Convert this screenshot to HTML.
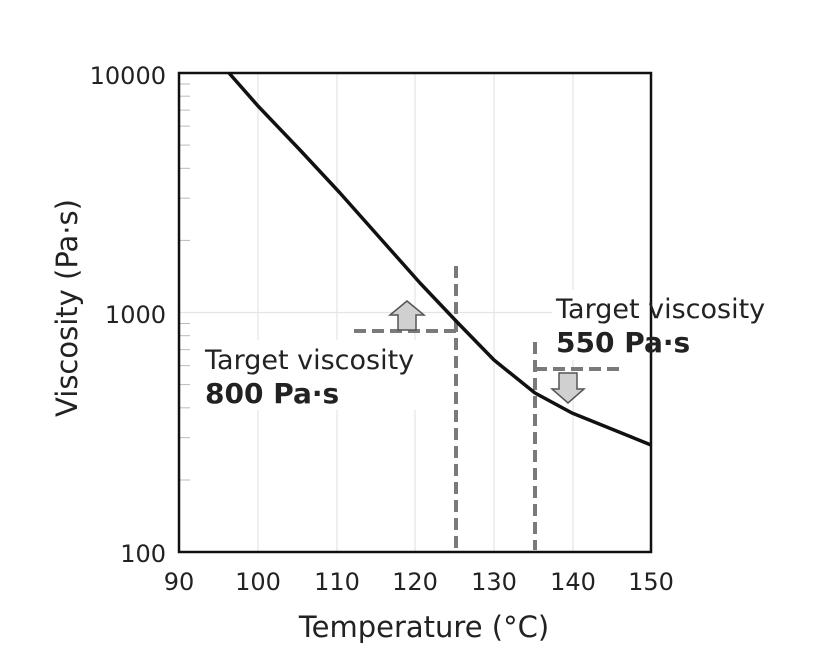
<!DOCTYPE html>
<html><head><meta charset="utf-8"><style>
html,body{margin:0;padding:0;background:#fff;}
svg{display:block;font-family:"DejaVu Sans","Liberation Sans",sans-serif;}
</style></head><body>
<svg width="813" height="668" viewBox="0 0 813 668" xmlns="http://www.w3.org/2000/svg">
<rect width="813" height="668" fill="#fff"/>
<g stroke="#e4e4e4" stroke-width="1.2">
<line x1="258" y1="73" x2="258" y2="552"/>
<line x1="337" y1="73" x2="337" y2="552"/>
<line x1="415" y1="73" x2="415" y2="552"/>
<line x1="494" y1="73" x2="494" y2="552"/>
<line x1="573" y1="73" x2="573" y2="552"/>
<line x1="179" y1="312.5" x2="651" y2="312.5"/>
</g>
<g stroke="#bbb" stroke-width="1">
<line x1="179" y1="480" x2="190" y2="480"/>
<line x1="179" y1="437.7" x2="190" y2="437.7"/>
<line x1="179" y1="407.8" x2="190" y2="407.8"/>
<line x1="179" y1="384.6" x2="190" y2="384.6"/>
<line x1="179" y1="365.6" x2="190" y2="365.6"/>
<line x1="179" y1="349.6" x2="190" y2="349.6"/>
<line x1="179" y1="335.7" x2="190" y2="335.7"/>
<line x1="179" y1="323.5" x2="190" y2="323.5"/>
<line x1="179" y1="240.4" x2="190" y2="240.4"/>
<line x1="179" y1="198.2" x2="190" y2="198.2"/>
<line x1="179" y1="168.3" x2="190" y2="168.3"/>
<line x1="179" y1="145.1" x2="190" y2="145.1"/>
<line x1="179" y1="126.1" x2="190" y2="126.1"/>
<line x1="179" y1="110.1" x2="190" y2="110.1"/>
<line x1="179" y1="96.2" x2="190" y2="96.2"/>
<line x1="179" y1="84" x2="190" y2="84"/>
</g>
<rect x="200" y="340" width="222" height="70" fill="#fff"/>
<rect x="552" y="290" width="222" height="70" fill="#fff"/>
<g stroke="#7a7a7a" stroke-width="4" stroke-dasharray="12,6" fill="none">
<line x1="456" y1="266" x2="456" y2="550"/>
<line x1="354" y1="331" x2="456" y2="331"/>
<line x1="535" y1="342" x2="535" y2="550"/>
<line x1="535" y1="369" x2="621" y2="369"/>
</g>
<polyline points="229,73 258,106 300,150 340,193 380,238 420,283 457,322 494,360 535,393 572,413 651,445" fill="none" stroke="#111" stroke-width="3.5" stroke-linejoin="round"/>
<polygon points="407,301 424,315 416,315 416,330 398,330 398,315 390,315" fill="#d0d0d0" stroke="#555" stroke-width="1.5"/>
<polygon points="559,373 577,373 577,389 584,389 568,403 552,389 559,389" fill="#d0d0d0" stroke="#555" stroke-width="1.5"/>
<rect x="179" y="73" width="472" height="479" fill="none" stroke="#111" stroke-width="2.5"/>
<g font-size="24" fill="#222">
<text x="166" y="84" text-anchor="end">10000</text>
<text x="166" y="323" text-anchor="end">1000</text>
<text x="166" y="562" text-anchor="end">100</text>
<text x="179" y="590" text-anchor="middle">90</text>
<text x="258" y="590" text-anchor="middle">100</text>
<text x="337" y="590" text-anchor="middle">110</text>
<text x="415" y="590" text-anchor="middle">120</text>
<text x="494" y="590" text-anchor="middle">130</text>
<text x="573" y="590" text-anchor="middle">140</text>
<text x="651" y="590" text-anchor="middle">150</text>
</g>
<text x="424" y="637" text-anchor="middle" font-size="29" fill="#222">Temperature (°C)</text>
<text transform="translate(77,308) rotate(-90)" text-anchor="middle" font-size="29" fill="#222">Viscosity (Pa·s)</text>
<g font-size="27" fill="#222">
<text x="205" y="369">Target viscosity</text>
<text x="205" y="403" font-weight="bold" font-size="28">800 Pa·s</text>
<text x="556" y="318">Target viscosity</text>
<text x="556" y="352" font-weight="bold" font-size="28">550 Pa·s</text>
</g>
</svg>
</body></html>
